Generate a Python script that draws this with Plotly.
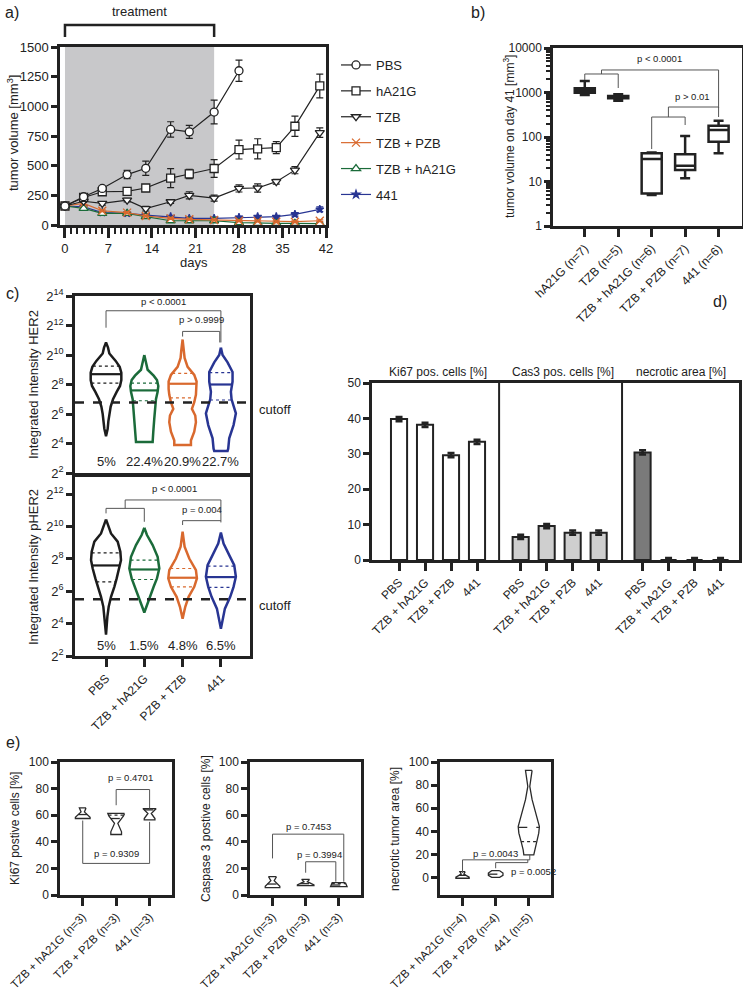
import plotly.graph_objects as go
import numpy as np

W, H = 743, 992
FONT = "Liberation Sans, Arial, sans-serif"
TXT = "#222222"
LINE = "#222222"
BR = "#555555"

def X(px):
    return px / W

def Y(py):
    return 1 - py / H

# ---------------- Panel a data ----------------
a_days_pbs = [0, 3, 6, 10, 13, 17, 20, 24, 28]
a_pbs = [160, 238, 308, 425, 478, 805, 785, 952, 1300]
a_pbs_err = [5, 15, 20, 35, 60, 65, 55, 100, 90]
a_days = [0, 3, 6, 10, 13, 17, 20, 24, 28, 31, 34, 37, 41]
a_ha21g = [160, 232, 280, 283, 312, 395, 430, 476, 636, 642, 652, 832, 1172]
a_ha21g_err = [5, 15, 20, 25, 20, 80, 40, 75, 80, 85, 50, 85, 100]
a_tzb = [160, 200, 182, 210, 138, 196, 250, 226, 308, 312, 365, 462, 778]
a_tzb_err = [5, 10, 15, 15, 20, 15, 30, 25, 30, 35, 20, 30, 40]
a_tzb_pzb = [160, 182, 120, 104, 76, 56, 48, 42, 36, 34, 28, 28, 36]
a_tzb_pzb_err = [5, 8, 8, 8, 8, 8, 8, 8, 8, 8, 8, 8, 8]
a_tzb_ha21g = [160, 140, 98, 98, 70, 36, 36, 36, 20, 14, 14, 14, 12]
a_tzb_ha21g_err = [5, 8, 8, 8, 8, 8, 8, 8, 8, 8, 8, 8, 8]
a_441 = [160, 154, 104, 98, 84, 70, 56, 56, 64, 70, 70, 90, 132]
a_441_err = [5, 5, 8, 8, 8, 8, 8, 8, 8, 10, 10, 15, 20]
a_treatment = [0, 24]

# ---------------- Panel b data ----------------
b_labels = ["hA21G (n=7)", "TZB (n=5)", "TZB + hA21G (n=6)", "TZB + PZB (n=7)", "441 (n=6)"]
b_lower = [880, 655, 5.0, 11.8, 43]
b_q1 = [990, 740, 5.4, 18.1, 78]
b_median = [1100, 780, 32, 22.6, 144]
b_q3 = [1240, 830, 43, 41, 179]
b_upper = [1810, 912, 45, 105, 232]

# ---------------- Panel c data (log2 units) ----------------
c_labels = ["PBS", "TZB + hA21G", "PZB + TZB", "441"]
c_colors = ["#1c1c1c", "#1b6b3a", "#d9692e", "#283593"]
c_her2_levels = [
    [10.85, 10.5, 10.1, 9.6, 9.2, 8.8, 8.3, 7.9, 7.5, 7.0, 6.5, 6.0, 5.5, 5.0, 4.5],
    [10.0, 9.5, 9.0, 8.6, 8.3, 7.9, 7.5, 7.0, 6.6, 5.7, 4.8, 4.1],
    [11.05, 10.3, 9.8, 9.2, 8.65, 8.2, 7.7, 7.3, 6.8, 6.35, 5.9, 5.45, 4.8, 4.2, 3.9],
    [10.5, 10.0, 9.5, 8.85, 8.2, 7.5, 7.0, 6.6, 6.05, 5.25, 4.35, 3.65, 3.5],
]
c_her2_widths = [
    [0, 6, 10, 29, 41, 46, 46, 42, 32, 21, 14, 10, 7, 5, 0],
    [0, 4, 10, 28, 38, 42, 40, 35, 33, 30, 27, 25],
    [0, 4, 6, 15, 35, 42, 42, 40, 35, 28, 38, 40, 35, 25, 25],
    [0, 5, 20, 35, 35, 30, 32, 38, 45, 38, 25, 22, 20],
]
c_her2_median = [8.7, 7.6, 8.05, 8.0]
c_her2_quart = [[9.25, 8.1], [8.1, 6.9], [8.75, 7.1], [8.8, 6.95]]
c_her2_pct = ["5%", "22.4%", "20.9%", "22.7%"]
c_her2_cutoff = 6.78

c_pher2_levels = [
    [10.45, 10.0, 9.58, 9.07, 8.45, 7.93, 7.41, 6.8, 6.28, 5.66, 5.04, 4.42, 3.32],
    [9.93, 9.48, 8.86, 8.14, 7.41, 6.8, 6.28, 5.66, 5.14, 4.69],
    [9.69, 8.76, 8.03, 7.31, 6.8, 6.28, 5.66, 5.04, 4.31],
    [9.64, 8.96, 8.24, 7.62, 6.9, 6.28, 5.66, 4.93, 3.69],
]
c_pher2_widths = [
    [0, 8, 15, 35, 43, 45, 40, 32, 25, 15, 8, 4, 0],
    [0, 8, 25, 40, 45, 38, 28, 18, 8, 0],
    [0, 6, 20, 40, 43, 35, 18, 8, 0],
    [0, 8, 25, 40, 45, 38, 28, 12, 0],
]
c_pher2_median = [7.6, 7.35, 6.84, 6.88]
c_pher2_quart = [[8.38, 6.59], [7.93, 6.73], [7.41, 6.28], [7.56, 6.24]]
c_pher2_pct = ["5%", "1.5%", "4.8%", "6.5%"]
c_pher2_cutoff = 5.51
C_WIDTH_SCALE = 115.0  # outline widths read in 1/115 of a category

# ---------------- Panel d data ----------------
d_labels = ["PBS", "TZB + hA21G", "TZB + PZB", "441"]
d_groups = ["Ki67 pos. cells [%]", "Cas3 pos. cells [%]", "necrotic area [%]"]
d_ki67 = [39.8, 38.2, 29.6, 33.4]
d_cas3 = [6.5, 9.6, 7.7, 7.7]
d_necrotic = [30.4, 0, 0, 0]
d_err = [0.6, 0.6, 0.6, 0.6]
d_group_offsets = [0, 4.68, 9.37]

# ---------------- Panel e data ----------------
e1_labels = ["TZB + hA21G (n=3)", "TZB + PZB (n=3)", "441 (n=3)"]
e2_labels = ["TZB + hA21G (n=3)", "TZB + PZB (n=3)", "441 (n=3)"]
e3_labels = ["TZB + hA21G (n=4)", "TZB + PZB (n=4)", "441 (n=5)"]
e1_levels = [[65.5, 62.5, 58.5, 57.5], [61.3, 59.5, 53.8, 47.5, 45.5], [65, 61.3, 57.5, 56.5]]
e1_widths = [[0.10, 0.05, 0.22, 0.22], [0.25, 0.22, 0.05, 0.16, 0.16], [0.20, 0.05, 0.16, 0.16]]
e1_median = [60.5, 57.5, 64]
e1_quart = [[], [60], []]
e2_levels = [[13.75, 10.75, 6.5, 5.5], [11.75, 10.0, 7.5, 7.0], [9.25, 6.75, 6.25]]
e2_widths = [[0.12, 0.05, 0.22, 0.22], [0.12, 0.05, 0.25, 0.25], [0.20, 0.24, 0.25]]
e2_median = [8.25, 8.5, 7.5]
e2_quart = [[], [], [8.5]]
e3_levels = [[5.2, 3.0, 0.5, -0.5], [6.0, 4.0, 2.0, 0.3],
             [92.8, 78.9, 67.4, 58.7, 50.0, 44.2, 38.5, 29.8, 24.0, 19.7]]
e3_widths = [[0.08, 0.04, 0.20, 0.20], [0.12, 0.22, 0.22, 0.12],
             [0.10, 0.03, 0.10, 0.18, 0.27, 0.32, 0.30, 0.22, 0.17, 0.15]]
e3_median = [2.0, 3.0, 43.4]
e3_quart = [[], [], [31.2]]

fig = go.Figure()

# ---------------- helpers ----------------
def violin(center, levels, hw, color, lw, xa, ya, med, quart, med_dash, med_w, q_w):
    xs = [center + w for w in hw] + [center - w for w in hw[::-1]] + [center + hw[0]]
    ys = list(levels) + list(levels[::-1]) + [levels[0]]
    fig.add_trace(go.Scatter(x=xs, y=ys, mode="lines", fill="toself", fillcolor="white",
                             line=dict(color=color, width=lw), xaxis=xa, yaxis=ya,
                             showlegend=False, hoverinfo="skip"))
    asc_l = list(levels[::-1])
    asc_w = list(hw[::-1])
    items = [(med, med_dash, med_w)] + [(q, "dot", q_w) for q in quart]
    for val, dash, w in items:
        half = float(np.interp(val, asc_l, asc_w))
        fig.add_trace(go.Scatter(x=[center - half, center + half], y=[val, val], mode="lines",
                                 line=dict(color=color, width=w, dash=dash), xaxis=xa, yaxis=ya,
                                 showlegend=False, hoverinfo="skip"))

def seg(xs, ys, xa, ya, color=BR, w=1):
    fig.add_trace(go.Scatter(x=xs, y=ys, mode="lines", line=dict(color=color, width=w),
                             xaxis=xa, yaxis=ya, showlegend=False, hoverinfo="skip"))

annotations = []

def note(text, x, y, xref, yref, size=9.5, **kw):
    d = dict(text=text, x=x, y=y, xref=xref, yref=yref, showarrow=False,
             xanchor="center", yanchor="middle",
             font=dict(size=size, color=TXT, family=FONT))
    d.update(kw)
    annotations.append(d)

# ---------------- Panel a traces ----------------
series = [
    ("PBS", a_days_pbs, a_pbs, a_pbs_err, "circle", LINE, "white", 8),
    ("hA21G", a_days, a_ha21g, a_ha21g_err, "square", LINE, "white", 8),
    ("TZB", a_days, a_tzb, a_tzb_err, "triangle-down", LINE, "white", 8),
    ("TZB + PZB", a_days, a_tzb_pzb, a_tzb_pzb_err, "x-thin", "#d9692e", "#d9692e", 8),
    ("TZB + hA21G", a_days, a_tzb_ha21g, a_tzb_ha21g_err, "triangle-up", "#1b6b3a", "white", 8),
    ("441", a_days, a_441, a_441_err, "star", "#283593", "#283593", 6),
]
order = [5, 4, 3, 2, 1, 0]
for k in order:
    name, xs, ys, err, sym, col, fillc, sz = series[k]
    fig.add_trace(go.Scatter(
        x=xs, y=ys, name=name, mode="lines+markers", legendgroup=name, legendrank=k,
        line=dict(color=col, width=1.2),
        marker=dict(symbol=sym, size=sz, color=fillc, line=dict(color=col, width=1.3)),
        error_y=dict(type="data", array=err, color=col, thickness=1.2, width=3.5),
        xaxis="x", yaxis="y", cliponaxis=False, showlegend=True))

# ---------------- Panel b traces ----------------
for i in range(len(b_labels)):
    fig.add_trace(go.Box(x=[i], q1=[b_q1[i]], median=[b_median[i]], q3=[b_q3[i]],
                         lowerfence=[b_lower[i]], upperfence=[b_upper[i]], width=0.6,
                         whiskerwidth=0.5, fillcolor="white", boxpoints=False,
                         line=dict(color=LINE, width=2.5), xaxis="x2", yaxis="y2",
                         showlegend=False, hoverinfo="skip"))
seg([0, 0, 1, 1], [1910, 2606, 2606, 1262], "x2", "y2")
seg([0.5, 0.5, 4, 4], [2606, 3206, 3206, 449], "x2", "y2")
seg([2, 2, 3, 3], [53.7, 281, 281, 186], "x2", "y2")
seg([2.5, 2.5, 4, 4], [281, 472, 472, 281], "x2", "y2")
note("p < 0.0001", 2.24, np.log10(5660), "x2", "y2")
note("p > 0.01", 3.22, np.log10(793), "x2", "y2")

# ---------------- Panel c traces ----------------
for i in range(4):
    violin(i, c_her2_levels[i], [w / C_WIDTH_SCALE for w in c_her2_widths[i]], c_colors[i], 2.5,
           "x3", "y3", c_her2_median[i], c_her2_quart[i], "solid", 2.2, 1.2)
    violin(i, c_pher2_levels[i], [w / C_WIDTH_SCALE for w in c_pher2_widths[i]], c_colors[i], 2.5,
           "x4", "y4", c_pher2_median[i], c_pher2_quart[i], "solid", 2.2, 1.2)
    note(c_her2_pct[i], i, 2.75, "x3", "y3", size=13)
    note(c_pher2_pct[i], i, 2.66, "x4", "y4", size=13)
seg([0, 0, 3, 3], [11.85, 13.0, 13.0, 10.85], "x3", "y3")
seg([2, 2, 2.97, 2.97], [11.25, 11.6, 11.6, 10.85], "x3", "y3")
note("p < 0.0001", 1.5, 13.6, "x3", "y3")
note("p > 0.9999", 2.5, 12.4, "x3", "y3")
seg([0, 0, 1, 1], [10.82, 11.13, 11.13, 10.3], "x4", "y4")
seg([0.5, 0.5, 3, 3], [11.13, 11.65, 11.65, 10.26], "x4", "y4")
seg([2, 2, 3], [10.1, 10.37, 10.37], "x4", "y4")
note("p < 0.0001", 1.78, 12.37, "x4", "y4")
note("p = 0.004", 2.5, 11.07, "x4", "y4")

# ---------------- Panel d traces ----------------
d_sets = [(d_ki67, "white"), (d_cas3, "#cfcfcf"), (d_necrotic, "#7a7a7a")]
d_tickvals, d_ticktext = [], []
for g, (vals, fc) in enumerate(d_sets):
    xs = [d_group_offsets[g] + j for j in range(4)]
    d_tickvals += xs
    d_ticktext += d_labels
    fig.add_trace(go.Bar(x=xs, y=vals, width=0.62,
                         marker=dict(color=fc, line=dict(color=LINE, width=2)),
                         error_y=dict(type="data", array=d_err, color=LINE, thickness=2.5, width=3.5),
                         xaxis="x5", yaxis="y5", showlegend=False, hoverinfo="skip", cliponaxis=False))
d_centers = [1.5, 6.3, 10.85]
for g in range(3):
    note(d_groups[g], d_centers[g], Y(372), "x5", "paper", size=12)

# ---------------- Panel e traces ----------------
for (lv, wd, md, qt, xa, ya) in [(e1_levels, e1_widths, e1_median, e1_quart, "x6", "y6"),
                                 (e2_levels, e2_widths, e2_median, e2_quart, "x7", "y7"),
                                 (e3_levels, e3_widths, e3_median, e3_quart, "x8", "y8")]:
    for i in range(3):
        violin(i, lv[i], wd[i], "#2a2a2a", 1.3, xa, ya, md[i], qt[i], "dash", 1.3, 1.2)
seg([1, 1, 2, 2], [67.5, 79.3, 79.3, 65], "x6", "y6")
seg([0, 0, 2, 2], [56, 23.75, 23.75, 55], "x6", "y6")
note("p = 0.4701", 1.42, 88, "x6", "y6")
note("p = 0.9309", 1.0, 31.25, "x6", "y6")
seg([0, 0, 2.15, 2.15], [27.5, 45.75, 45.75, 10], "x7", "y7")
seg([1, 1, 1.91, 1.91], [16.75, 25, 25, 10], "x7", "y7")
note("p = 0.7453", 1.08, 51.2, "x7", "y7")
note("p = 0.3994", 1.43, 30.75, "x7", "y7")
seg([0, 0, 2.03, 2.03], [4.0, 15.4, 15.4, 19.7], "x8", "y8")
seg([1, 1, 1.97, 1.97], [8.1, 13.0, 13.0, 15.4], "x8", "y8")
note("p = 0.0043", 1.0, 20.6, "x8", "y8")
note("p = 0.0052", 1.4, 5.2, "x8", "y8", xanchor="left")

# ---------------- axes ----------------
def ax(domain, **kw):
    base = dict(domain=domain, showline=True, linewidth=2.5, linecolor=LINE, mirror=True,
                ticks="outside", tickwidth=2.5, ticklen=6, tickcolor=LINE, showgrid=False,
                zeroline=False, tickfont=dict(size=12, color=TXT, family=FONT), fixedrange=True,
                automargin=False)
    base.update(kw)
    return base

rot = dict(tickangle=-45, ticklen=8)
rot_e = dict(tickangle=-45, ticklen=8, tickfont=dict(size=11.5, color=TXT, family=FONT))

layout = dict(
    width=W, height=H, margin=dict(l=0, r=0, t=0, b=0, autoexpand=False),
    paper_bgcolor="white", plot_bgcolor="white",
    font=dict(family=FONT, color=TXT),
    showlegend=True,
    legend=dict(x=X(336), y=Y(50), xanchor="left", yanchor="top", tracegroupgap=6,
                font=dict(size=13, color=TXT, family=FONT), bgcolor="rgba(0,0,0,0)",
                itemwidth=30, traceorder="grouped"),
    # a
    xaxis=ax([X(60), X(326)], anchor="y", range=[-0.8, 42], tickvals=list(range(0, 43, 7)),
             ticklen=10, tickfont=dict(size=13, color=TXT, family=FONT),
             minor=dict(dtick=1, tick0=0, ticks="outside", ticklen=6, tickwidth=2, tickcolor=LINE)),
    yaxis=ax([Y(225), Y(47)], anchor="x", range=[0, 1500], dtick=250,
             tickfont=dict(size=13, color=TXT, family=FONT)),
    # b
    xaxis2=ax([X(553), X(742)], anchor="y2", range=[-0.95, 4.7], tickvals=list(range(5)),
              ticktext=b_labels, **rot),
    yaxis2=ax([Y(226), Y(48)], anchor="x2", type="log", range=[0, 4],
              tickvals=[1, 10, 100, 1000, 10000], ticktext=["1", "10", "100", "1000", "10000"],
              minor=dict(dtick="D1", ticks="outside", ticklen=4, tickwidth=1.5, tickcolor=LINE)),
    # c top
    xaxis3=ax([X(75), X(250)], anchor="y3", range=[-0.81, 3.76], ticks="", showticklabels=False),
    yaxis3=ax([Y(473), Y(296)], anchor="x3", range=[2, 14], tickvals=list(range(2, 15, 2)),
              ticktext=["2<sup>%d</sup>" % v for v in range(2, 15, 2)],
              tickfont=dict(size=13, color=TXT, family=FONT)),
    # c bottom
    xaxis4=ax([X(75), X(250)], anchor="y4", range=[-0.81, 3.76], tickvals=list(range(4)),
              ticktext=c_labels, **rot),
    yaxis4=ax([Y(656), Y(477)], anchor="x4", range=[2, 13.07], tickvals=list(range(2, 13, 2)),
              ticktext=["2<sup>%d</sup>" % v for v in range(2, 13, 2)],
              tickfont=dict(size=13, color=TXT, family=FONT)),
    # d
    xaxis5=ax([X(372), X(739)], anchor="y5", range=[-1.04, 13.08], tickvals=d_tickvals,
              ticktext=d_ticktext, **rot),
    yaxis5=ax([Y(560), Y(383)], anchor="x5", range=[0, 50], dtick=10),
    # e
    xaxis6=ax([X(60), X(172)], anchor="y6", range=[-0.68, 2.67], tickvals=[0, 1, 2],
              ticktext=e1_labels, **rot_e),
    yaxis6=ax([Y(895), Y(762)], anchor="x6", range=[0, 100], dtick=20),
    xaxis7=ax([X(250), X(361)], anchor="y7", range=[-0.68, 2.67], tickvals=[0, 1, 2],
              ticktext=e2_labels, **rot_e),
    yaxis7=ax([Y(895), Y(762)], anchor="x7", range=[0, 100], dtick=20),
    xaxis8=ax([X(440), X(551)], anchor="y8", range=[-0.68, 2.67], tickvals=[0, 1, 2],
              ticktext=e3_labels, **rot_e),
    yaxis8=ax([Y(895), Y(762)], anchor="x8", range=[-15, 100], tickvals=[0, 20, 40, 60, 80, 100]),
)

shapes = [
    dict(type="rect", xref="x", yref="y", x0=a_treatment[0], x1=a_treatment[1], y0=0, y1=1500,
         fillcolor="#c8c8ca", line=dict(width=0), layer="below"),
    dict(type="path", xref="x", yref="paper",
         path="M %g,%g L %g,%g L %g,%g L %g,%g" % (a_treatment[0], Y(37), a_treatment[0], Y(25),
                                                    a_treatment[1], Y(25), a_treatment[1], Y(37)),
         line=dict(color=LINE, width=2.5)),
    dict(type="line", xref="x3 domain", yref="y3", x0=0, x1=1, y0=c_her2_cutoff, y1=c_her2_cutoff,
         line=dict(color=LINE, width=2.5, dash="dash")),
    dict(type="line", xref="x4 domain", yref="y4", x0=0, x1=1, y0=c_pher2_cutoff, y1=c_pher2_cutoff,
         line=dict(color=LINE, width=2.5, dash="dash")),
    dict(type="line", xref="x5", yref="y5 domain", x0=3.85, x1=3.85, y0=0, y1=1,
         line=dict(color=LINE, width=2)),
    dict(type="line", xref="x5", yref="y5 domain", x0=8.58, x1=8.58, y0=0, y1=1,
         line=dict(color=LINE, width=2)),
]
layout["shapes"] = shapes

# titles and labels
note("treatment", X(139), Y(12), "paper", "paper", size=13)
note("tumor volume [mm<sup>3</sup>]", X(13), Y(133), "paper", "paper", size=13, textangle=-90)
note("days", X(194), Y(262), "paper", "paper", size=13)
note("tumor volume on day 41 [mm<sup>3</sup>]", X(509), Y(137), "paper", "paper", size=12, textangle=-90)
note("Integrated Intensity HER2", X(33), Y(385), "paper", "paper", size=13, textangle=-90)
note("Integrated Intensity pHER2", X(33), Y(567), "paper", "paper", size=13, textangle=-90)
note("cutoff", X(257), Y(409), "paper", "paper", size=13, xanchor="left")
note("cutoff", X(257), Y(605), "paper", "paper", size=13, xanchor="left")
note("Ki67 postive cells [%]", X(15), Y(829), "paper", "paper", size=12, textangle=-90)
note("Caspase 3 postive cells [%]", X(206), Y(829), "paper", "paper", size=12, textangle=-90)
note("necrotic tumor area [%]", X(395), Y(829), "paper", "paper", size=12, textangle=-90)
for lab, px, py in [("a)", 12, 13), ("b)", 478, 13), ("c)", 13, 293), ("d)", 720, 301), ("e)", 13, 742)]:
    note(lab, X(px), Y(py), "paper", "paper", size=16)

layout["annotations"] = annotations
fig.update_layout(**layout)
fig.write_html("out.html", config={"displayModeBar": False},
               post_script="document.body.style.margin='0';document.body.style.padding='0';")
